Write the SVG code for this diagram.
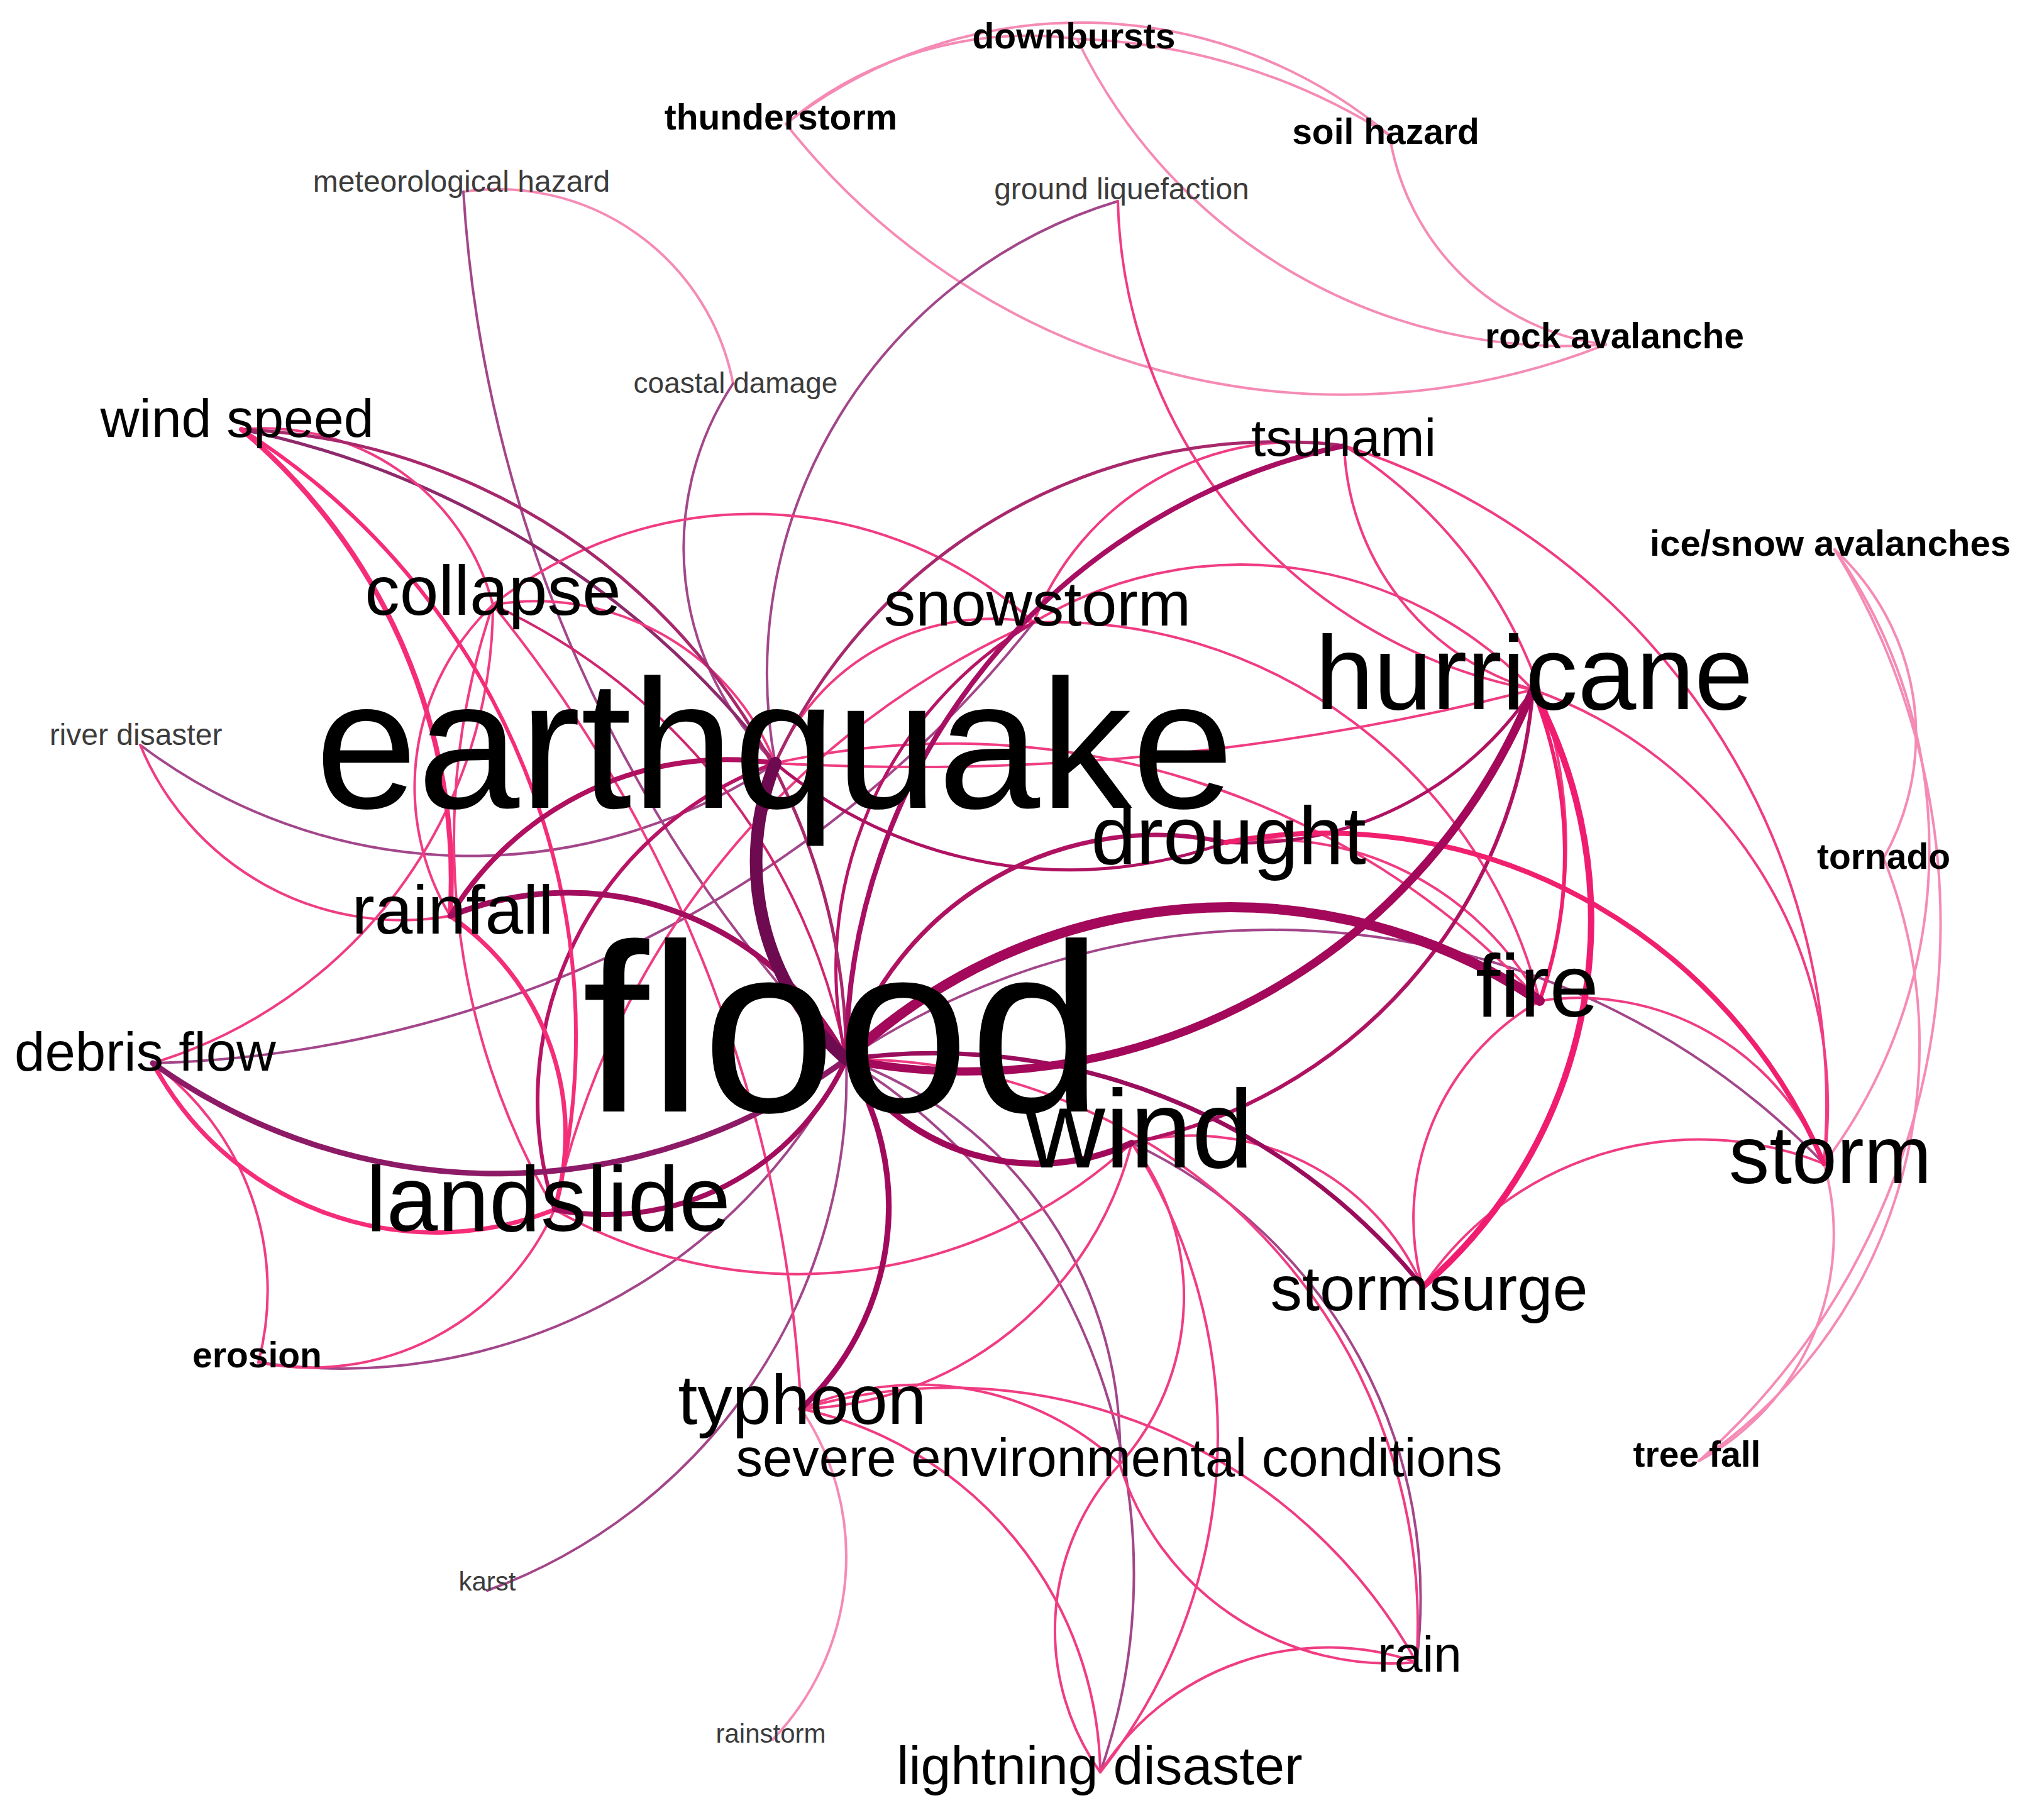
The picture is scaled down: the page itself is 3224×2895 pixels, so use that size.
<svg xmlns="http://www.w3.org/2000/svg" width="3224" height="2895" viewBox="0 0 3224 2895">
<style>
.e{fill:none;stroke-linecap:round}
.lp{stroke:#f58bb5;stroke-width:4}
.p{stroke:#f03c82;stroke-width:4}
.mp{stroke:#a3468a;stroke-width:4}
text{font-family:"Liberation Sans",Arial,sans-serif;fill:#000;text-anchor:middle}
.b{font-weight:bold}
.g{fill:#3c3c3c}
</style>
<rect width="3224" height="2895" fill="#fff"/>
<g id="edges">
<path class="e lp" d="M1250 197 A600 600 0 0 1 1713 62"/>
<path class="e lp" d="M1250 197 A763 763 0 0 1 2210 215"/>
<path class="e lp" d="M1713 62 A983 983 0 0 1 2210 215"/>
<path class="e lp" d="M1713 62 A861 861 0 0 0 2554 548"/>
<path class="e lp" d="M2210 215 A398 398 0 0 0 2554 548"/>
<path class="e lp" d="M1250 197 A1129 1129 0 0 0 2554 548"/>
<path class="e lp" d="M2918 874 A1140 1140 0 0 1 2702 2324"/>
<path class="e lp" d="M2918 874 A830 830 0 0 1 2901 1851"/>
<path class="e lp" d="M2918 874 A400 400 0 0 1 2996 1365"/>
<path class="e lp" d="M2996 1365 A800 800 0 0 1 2702 2324"/>
<path class="e lp" d="M2901 1851 A410 410 0 0 1 2702 2324"/>
<path class="e lp" d="M737 305 A381 381 0 0 1 1166 610"/>
<path class="e lp" d="M1274 2241 A420 420 0 0 1 1229 2767"/>
<path class="e mp" d="M1778 320 A785 785 0 0 0 1233 1214"/>
<path class="e mp" d="M737 305 A2173 2173 0 0 0 1346 1685"/>
<path class="e mp" d="M1166 610 A475 475 0 0 0 1233 1214"/>
<path class="e mp" d="M223 1185 A870 870 0 0 0 1233 1214"/>
<path class="e mp" d="M775 2530 A870 870 0 0 0 1346 1685"/>
<path class="e mp" d="M411 2167 A900 900 0 0 0 1346 1685"/>
<path class="e mp" d="M1346 1685 A660 660 0 0 1 1781 2329"/>
<path class="e mp" d="M1346 1685 A960 960 0 0 1 1750 2819"/>
<path class="e mp" d="M1800 1818 A800 800 0 0 1 2253 2644"/>
<path class="e mp" d="M1346 1685 A1220 1220 0 0 1 2901 1851"/>
<path class="e mp" d="M243 1691 A1850 1850 0 0 0 1644 990"/>
<path class="e" stroke="#8e2a6c" stroke-width="5" d="M384 683 A1437 1437 0 0 1 1233 1214"/>
<path class="e p" d="M1778 320 A811 811 0 0 0 2438 1097"/>
<path class="e p" d="M384 683 A376 376 0 0 1 784 962"/>
<path class="e p" d="M784 962 A664 664 0 0 1 1644 990"/>
<path class="e p" d="M784 962 A400 400 0 0 0 716 1457"/>
<path class="e p" d="M784 962 A1160 1160 0 0 0 882 1924"/>
<path class="e" stroke="#d02670" stroke-width="4" d="M784 962 A1000 1000 0 0 1 1346 1685"/>
<path class="e p" d="M784 962 A410 410 0 0 1 1233 1214"/>
<path class="e p" d="M243 1691 A763 763 0 0 0 784 962"/>
<path class="e p" d="M223 1185 A450 450 0 0 0 716 1457"/>
<path class="e p" d="M243 1691 A450 450 0 0 1 411 2167"/>
<path class="e p" d="M411 2167 A424 424 0 0 0 882 1924"/>
<path class="e p" d="M1274 2241 A470 470 0 0 1 1781 2329"/>
<path class="e p" d="M1274 2241 A850 850 0 0 1 2253 2644"/>
<path class="e p" d="M1274 2241 A600 600 0 0 1 1750 2819"/>
<path class="e p" d="M1274 2241 A560 560 0 0 0 1800 1818"/>
<path class="e p" d="M882 1924 A780 780 0 0 0 1800 1818"/>
<path class="e p" d="M2438 1097 A700 700 0 0 1 2901 1851"/>
<path class="e p" d="M2138 709 A420 420 0 0 0 2438 1097"/>
<path class="e p" d="M2138 709 A750 750 0 0 1 2449 1592"/>
<path class="e p" d="M2138 709 A450 450 0 0 0 1644 990"/>
<path class="e p" d="M2138 709 A1100 1100 0 0 1 2901 1851"/>
<path class="e p" d="M1644 990 A800 800 0 0 1 2449 1592"/>
<path class="e p" d="M1644 990 A375 375 0 0 0 1233 1214"/>
<path class="e p" d="M1644 990 A640 640 0 0 1 2438 1097"/>
<path class="e p" d="M1950 1340 A490 490 0 0 1 2449 1592"/>
<path class="e p" d="M2449 1592 A420 420 0 0 1 2901 1851"/>
<path class="e p" d="M2449 1592 A400 400 0 0 0 2263 2047"/>
<path class="e p" d="M1233 1214 A1273 1273 0 0 1 2449 1592"/>
<path class="e p" d="M1233 1214 A4000 4000 0 0 0 2438 1097"/>
<path class="e p" d="M2263 2047 A530 530 0 0 1 2901 1851"/>
<path class="e p" d="M1800 1818 A860 860 0 0 1 1750 2819"/>
<path class="e p" d="M1800 1818 A400 400 0 0 1 2263 2047"/>
<path class="e p" d="M1800 1818 A400 400 0 0 1 1781 2329"/>
<path class="e p" d="M1346 1685 A900 900 0 0 1 2253 2644"/>
<path class="e p" d="M1781 2329 A450 450 0 0 0 2253 2644"/>
<path class="e p" d="M1750 2819 A430 430 0 0 1 2253 2644"/>
<path class="e p" d="M1781 2329 A390 390 0 0 0 1750 2819"/>
<path class="e p" d="M882 1924 A1330 1330 0 0 1 1644 990"/>
<path class="e p" d="M784 962 A2200 2200 0 0 1 1274 2241"/>
<path class="e" stroke="#b81466" stroke-width="5" d="M1346 1685 A640 640 0 0 1 1644 990"/>
<path class="e" stroke="#a8286c" stroke-width="5" d="M2138 709 A880 880 0 0 0 1233 1214"/>
<path class="e" stroke="#a8286c" stroke-width="5" d="M384 683 A1006 1006 0 0 1 1346 1685"/>
<path class="e" stroke="#b01262" stroke-width="5" d="M1233 1214 A730 730 0 0 0 1950 1340"/>
<path class="e" stroke="#b01262" stroke-width="5" d="M2438 1097 A550 550 0 0 1 1950 1340"/>
<path class="e" stroke="#b81466" stroke-width="6" d="M1233 1214 A570 570 0 0 0 882 1924"/>
<path class="e" stroke="#b01262" stroke-width="6" d="M2438 1097 A800 800 0 0 1 1800 1818"/>
<path class="e" stroke="#b01262" stroke-width="7" d="M1346 1685 A520 520 0 0 1 1950 1340"/>
<path class="e" stroke="#9a0d5c" stroke-width="7" d="M1346 1685 A1000 1000 0 0 1 2263 2047"/>
<path class="e" stroke="#f0206f" stroke-width="6" d="M2438 1097 A700 700 0 0 1 2449 1592"/>
<path class="e" stroke="#f52d79" stroke-width="6" d="M384 683 A1140 1140 0 0 1 882 1924"/>
<path class="e" stroke="#f52d79" stroke-width="8" d="M384 683 A936 936 0 0 1 716 1457"/>
<path class="e" stroke="#f52d79" stroke-width="7" d="M716 1457 A420 420 0 0 1 882 1924"/>
<path class="e" stroke="#f52d79" stroke-width="7" d="M243 1691 A510 510 0 0 0 882 1924"/>
<path class="e" stroke="#f0206f" stroke-width="8" d="M1950 1340 A860 860 0 0 1 2901 1851"/>
<path class="e" stroke="#f01c70" stroke-width="10" d="M2438 1097 A770 770 0 0 1 2263 2047"/>
<path class="e" stroke="#8d1a66" stroke-width="9" d="M243 1691 A940 940 0 0 0 1346 1685"/>
<path class="e" stroke="#a30d5e" stroke-width="8" d="M1346 1685 A420 420 0 0 1 882 1924"/>
<path class="e" stroke="#b0105f" stroke-width="8" d="M1233 1214 A515 515 0 0 0 716 1457"/>
<path class="e" stroke="#a30d5e" stroke-width="9" d="M716 1457 A500 500 0 0 1 1346 1685"/>
<path class="e" stroke="#a80f62" stroke-width="8" d="M1346 1685 A1000 1000 0 0 1 2138 709"/>
<path class="e" stroke="#a10a5c" stroke-width="9" d="M1346 1685 A440 440 0 0 1 1274 2241"/>
<path class="e" stroke="#a0095a" stroke-width="10" d="M1346 1685 A360 360 0 0 0 1800 1818"/>
<path class="e" stroke="#a3085a" stroke-width="13" d="M1346 1685 A970 970 0 0 0 2438 1097"/>
<path class="e" stroke="#a3085a" stroke-width="16" d="M1346 1685 A890 890 0 0 1 2449 1592"/>
<path class="e" stroke="#6e0a4f" stroke-width="20" d="M1233 1214 A417 417 0 0 0 1346 1685"/>
</g>
<g id="n-downbursts"><text class="b" x="1708" y="77" font-size="57">downbursts</text></g>
<g id="n-thunderstorm"><text class="b" x="1242" y="206" font-size="57">thunderstorm</text></g>
<g id="n-soil-hazard"><text class="b" x="2204" y="229" font-size="57">soil hazard</text></g>
<g id="n-meteorological-hazard"><text class="g" x="734" y="305" font-size="48">meteorological hazard</text></g>
<g id="n-ground-liquefaction"><text class="g" x="1784" y="317" font-size="48">ground liquefaction</text></g>
<g id="n-coastal-damage"><text class="g" x="1170" y="625" font-size="46">coastal damage</text></g>
<g id="n-rock-avalanche"><text class="b" x="2568" y="554" font-size="57">rock avalanche</text></g>
<g id="n-wind-speed"><text x="377" y="695" font-size="86">wind speed</text></g>
<g id="n-tsunami"><text x="2137" y="725" font-size="84">tsunami</text></g>
<g id="n-ice-snow-avalanches"><text class="b" x="2911" y="884" font-size="58">ice/snow avalanches</text></g>
<g id="n-collapse"><text x="784" y="978" font-size="111">collapse</text></g>
<g id="n-snowstorm"><text x="1650" y="995" font-size="101">snowstorm</text></g>
<g id="n-hurricane"><text x="2440" y="1128" font-size="167">hurricane</text></g>
<g id="n-river-disaster"><text class="g" x="216" y="1185" font-size="48">river disaster</text></g>
<g id="n-earthquake"><text x="1232" y="1285" font-size="292">earthquake</text></g>
<g id="n-drought"><text x="1954" y="1374" font-size="129">drought</text></g>
<g id="n-tornado"><text class="b" x="2996" y="1382" font-size="57">tornado</text></g>
<g id="n-rainfall"><text x="720" y="1485" font-size="109">rainfall</text></g>
<g id="n-fire"><text x="2445" y="1617" font-size="141">fire</text></g>
<g id="n-debris-flow"><text x="231" y="1703" font-size="87">debris flow</text></g>
<g id="n-flood"><text x="1340" y="1768" font-size="382">flood</text></g>
<g id="n-wind"><text x="1812" y="1857" font-size="177">wind</text></g>
<g id="n-storm"><text x="2911" y="1882" font-size="129">storm</text></g>
<g id="n-landslide"><text x="872" y="1958" font-size="147">landslide</text></g>
<g id="n-stormsurge"><text x="2273" y="2084" font-size="101">stormsurge</text></g>
<g id="n-erosion"><text class="b" x="409" y="2175" font-size="57">erosion</text></g>
<g id="n-typhoon"><text x="1276" y="2265" font-size="111">typhoon</text></g>
<g id="n-tree-fall"><text class="b" x="2699" y="2333" font-size="57">tree fall</text></g>
<g id="n-severe-environmental-conditions"><text x="1780" y="2348" font-size="85">severe environmental conditions</text></g>
<g id="n-karst"><text class="g" x="775" y="2530" font-size="42">karst</text></g>
<g id="n-rain"><text x="2258" y="2659" font-size="80">rain</text></g>
<g id="n-rainstorm"><text class="g" x="1226" y="2772" font-size="42">rainstorm</text></g>
<g id="n-lightning-disaster"><text x="1749" y="2838" font-size="86">lightning disaster</text></g>
</svg>
